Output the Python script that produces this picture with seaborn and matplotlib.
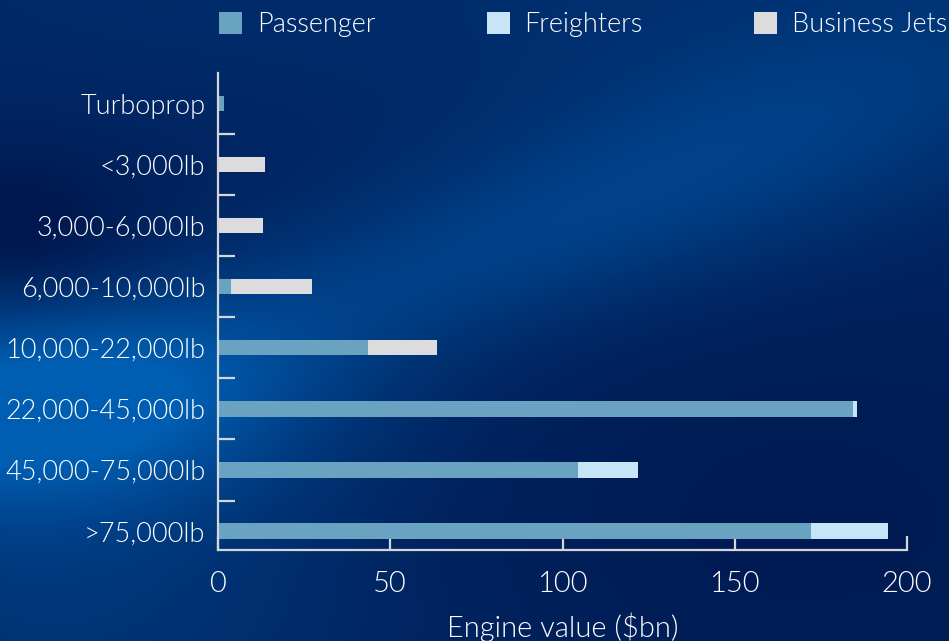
import numpy as np
import pandas as pd
import matplotlib
matplotlib.use("Agg")
import matplotlib.pyplot as plt
from matplotlib.patches import Patch
import seaborn as sns

# Engine value by thrust class, $bn
categories = ["Turboprop", "<3,000lb", "3,000-6,000lb", "6,000-10,000lb",
              "10,000-22,000lb", "22,000-45,000lb", "45,000-75,000lb", ">75,000lb"]
passenger = [1.8, 0.0, 0.0, 3.8, 43.5, 184.4, 104.5, 172.1]
freighters = [0.0, 0.0, 0.0, 0.0, 0.0, 1.1, 17.4, 22.3]
business_jets = [0.0, 13.6, 13.1, 23.5, 20.1, 0.0, 0.0, 0.0]
x_ticks = [0, 50, 100, 150, 200]

series_names = ["Passenger", "Freighters", "Business Jets"]
series_colors = ["#6aa3c2", "#c8e5f7", "#dcdcde"]
text_color = "#ffffff"
spine_color = "#d4d6da"

df = pd.DataFrame({"category": categories, "Passenger": passenger,
                   "Freighters": freighters, "Business Jets": business_jets})
df["cum_pf"] = df["Passenger"] + df["Freighters"]
df["cum_all"] = df["cum_pf"] + df["Business Jets"]

sns.set_theme(style="white")
plt.rcParams["font.family"] = ["Lato", "DejaVu Sans"]
font_weight = 300
font_size = 19.5

W, H = 949, 641
fig = plt.figure(figsize=(W / 100, H / 100), dpi=100)

# Blue backdrop with soft glows
bg_ax = fig.add_axes([0, 0, 1, 1], zorder=-10)
yy, xx = np.mgrid[0:H:4, 0:W:4].astype(float)
def glow(cx, cy, sx, sy, amp, angle=0.0):
    c, s = np.cos(angle), np.sin(angle)
    dx, dy = xx - cx, yy - cy
    u = c * dx + s * dy
    v = -s * dx + c * dy
    return amp * np.exp(-0.5 * ((u / sx) ** 2 + (v / sy) ** 2))
field = (0.14
         + glow(30, 410, 190, 80, 0.9)
         + glow(380, 290, 300, 60, 0.3, -0.33)
         + glow(760, 140, 260, 90, 0.28, -0.3)
         + glow(475, -20, 650, 110, 0.15)
         + glow(60, 620, 220, 90, 0.25)
         - glow(10, 240, 90, 60, 0.25)
         - glow(800, 520, 250, 150, 0.1))
field = np.clip(field, 0, 1)
dark = np.array([0.0, 0.095, 0.31])
light = np.array([0.0, 0.37, 0.70])
img = dark[None, None, :] + field[..., None] * (light - dark)[None, None, :]
bg_ax.imshow(img, extent=[0, 1, 0, 1], aspect="auto", interpolation="bilinear", origin="upper")
bg_ax.set_axis_off()

ax = fig.add_axes([218 / W, 91 / H, 689 / W, 477 / H])
ax.set_facecolor("none")

# Stacked horizontal bars: draw cumulative totals back to front
bar_w = 0.25
sns.barplot(data=df, x="cum_all", y="category", order=categories, orient="h",
            color=series_colors[2], width=bar_w, saturation=1, ax=ax, linewidth=0)
sns.barplot(data=df, x="cum_pf", y="category", order=categories, orient="h",
            color=series_colors[1], width=bar_w, saturation=1, ax=ax, linewidth=0)
sns.barplot(data=df, x="Passenger", y="category", order=categories, orient="h",
            color=series_colors[0], width=bar_w, saturation=1, ax=ax, linewidth=0)

ax.set_xlim(0, 200)
ax.set_ylim(len(categories) - 1 + 0.31, -0.5)
ax.set_xticks(x_ticks)
ax.set_xticklabels([str(t) for t in x_ticks])
ax.set_yticks(range(len(categories)))
ax.set_yticklabels(categories)
ax.set_yticks(np.arange(0.5, len(categories) - 1, 1.0), minor=True)

for lbl in ax.get_yticklabels():
    lbl.set_fontsize(font_size)
    lbl.set_fontweight(font_weight)
    lbl.set_color(text_color)
for lbl in ax.get_xticklabels():
    lbl.set_fontsize(21)
    lbl.set_fontweight(font_weight)
    lbl.set_color(text_color)

ax.tick_params(axis="y", which="major", length=0, pad=9)
ax.tick_params(axis="y", which="minor", direction="in", length=12, width=1.6,
               color=spine_color, left=True)
ax.tick_params(axis="x", which="major", direction="in", length=10, width=1.6,
               color=spine_color, pad=15, bottom=True)

ax.set_ylabel("")
ax.set_xlabel("Engine value ($bn)", labelpad=11, fontsize=21,
              fontweight=font_weight, color=text_color)

for side in ["top", "right"]:
    ax.spines[side].set_visible(False)
for side in ["left", "bottom"]:
    ax.spines[side].set_color(spine_color)
    ax.spines[side].set_linewidth(1.6)

handles = [Patch(facecolor=c, edgecolor="none", label=n)
           for n, c in zip(series_names, series_colors)]
leg = fig.legend(handles=handles, loc="upper left", bbox_to_anchor=(203 / W, 1.0 + 4 / H),
                 ncol=3, frameon=False, handlelength=0.85, handleheight=0.85,
                 handletextpad=0.55, columnspacing=4.1, borderpad=0.1,
                 prop=dict(size=font_size, weight=font_weight))
for t in leg.get_texts():
    t.set_color(text_color)

fig.savefig("out.png", dpi=100)
